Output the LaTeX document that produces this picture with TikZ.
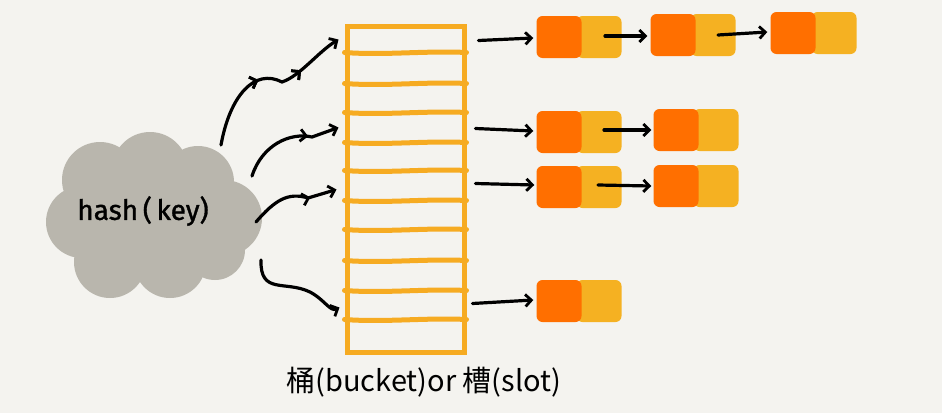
\documentclass[tikz,border=0pt]{standalone}
\usepackage{fontspec}
\newfontfamily\cjk{Noto Sans CJK SC}
\newfontfamily\hand[FakeBold=1.2]{Fira Sans}
\usetikzlibrary{arrows.meta,decorations.markings,calc}
\definecolor{bg}{HTML}{F4F3EF}
\definecolor{cloudc}{HTML}{B9B6AD}
\definecolor{bucketc}{HTML}{F6AB22}
\definecolor{orangec}{HTML}{FF6F00}
\definecolor{yellowc}{HTML}{F5B122}
\tikzset{
  arr/.style={line width=3.2pt,line cap=round,-{Straight Barb[length=6pt,width=12pt,line width=2.8pt]}},
  midhead/.style={postaction={decorate},decoration={markings,mark=at position #1 with {\arrow{Straight Barb[length=6pt,width=12pt,line width=2.8pt]}}}},
  onode/.style={fill=orangec,rounded corners=6pt,minimum width=45pt,minimum height=42pt,inner sep=0pt},
  ynode/.style={fill=yellowc,rounded corners=6pt,minimum width=45pt,minimum height=42pt,inner sep=0pt},
  slotline/.style={draw=bucketc,line width=5pt,line cap=round},
}
\begin{document}
\begin{tikzpicture}[x=1pt,y=-1pt]
\fill[bg] (0,0) rectangle (942,413);
\useasboundingbox (0,0) rectangle (942,413);
% cloud
\fill[cloudc] (100,180) circle (38) (150,170) circle (38) (198,182) circle (36)
  (82,222) circle (36) (224,218) circle (38) (110,262) circle (36)
  (170,262) circle (36) (150,218) circle (55) (215,250) circle (30);
\node[font=\hand\fontsize{28}{28}\selectfont] (hash) at (143,211) {hash\,(\,key)};
% bucket
\node[draw=bucketc,line width=5pt,minimum width=117pt,minimum height=326pt,inner sep=0pt] (bucket) at (405.5,189) {};
\foreach \y in {55,86,115,145,173,203,232,263,293,322}{
  \draw[slotline] ($(bucket.north west)+(0,\y-26)$)
     .. controls ++(40,3) and ++(-40,-2) .. ($(bucket.north east)+(0,\y-26)$);
}
% cloud arrows
\coordinate (s1) at (221,145);
\coordinate (s2) at (252,176);
\coordinate (s3) at (256,222);
\coordinate (s4) at (261,260);
\coordinate (e1) at ($(bucket.north west)+(-6,16)$);
\coordinate (e2) at ($(bucket.north west)+(-6,104)$);
\coordinate (e3) at ($(bucket.north west)+(-8,166)$);
\coordinate (e4) at ($(bucket.north west)+(-5,284)$);
\draw[arr,midhead=0.45,midhead=0.72] (s1) .. controls (230,95) and (255,68) .. (282,82) .. controls (300,76) and (318,52) .. (e1);
\draw[arr,midhead=0.7] (s2) .. controls (262,145) and (290,132) .. (312,137) -- (e2);
\draw[arr,midhead=0.7] (s3) .. controls (275,200) and (288,192) .. (308,198) -- (e3);
\draw[arr] (s4) .. controls (260,295) and (285,280) .. (310,292) .. controls (325,300) and (330,312) .. (e4);
% lists
\node[ynode] (y11) at (599,37) {};  \node[onode] (o11) at (559,37) {};
\node[ynode] (y12) at (713,35) {};  \node[onode] (o12) at (673,35) {};
\node[ynode] (y13) at (834,33) {};  \node[onode] (o13) at (793,33) {};
\node[ynode] (y21) at (599,132) {}; \node[onode] (o21) at (559,132) {};
\node[ynode] (y22) at (716,130) {}; \node[onode] (o22) at (676,130) {};
\node[ynode] (y31) at (599,187) {}; \node[onode] (o31) at (559,187) {};
\node[ynode] (y32) at (716,186) {}; \node[onode] (o32) at (676,186) {};
\node[ynode] (y41) at (599,301) {}; \node[onode] (o41) at (559,301) {};
% bucket to list arrows
\draw[arr] ($(bucket.north east)+(12,17)$) -- ($(o11.west)+(-3,1)$);
\draw[arr] ($(bucket.north east)+(9,105)$) -- ($(o21.west)+(-3,-1)$);
\draw[arr] ($(bucket.north east)+(9,160)$) -- ($(o31.west)+(-2,-2)$);
\draw[arr] ($(bucket.north east)+(6,280)$) -- ($(o41.west)+(-3,-1)$);
% list arrows
\draw[arr] ($(y11.center)+(6,-1)$) -- ($(o12.west)+(-3,1)$);
\draw[arr] ($(y12.center)+(5,0)$) -- ($(o13.west)+(-3,-1)$);
\draw[arr] ($(y21.center)+(5,-2)$) -- ($(o22.west)+(-2,0)$);
\draw[arr] ($(y31.center)+(-1,-2)$) -- ($(o32.west)+(-2,0)$);
% caption
\node[font=\cjk\fontsize{29}{29}\selectfont] (cap) at (424,382) {桶(bucket)or 槽(slot)};
\end{tikzpicture}
\end{document}
